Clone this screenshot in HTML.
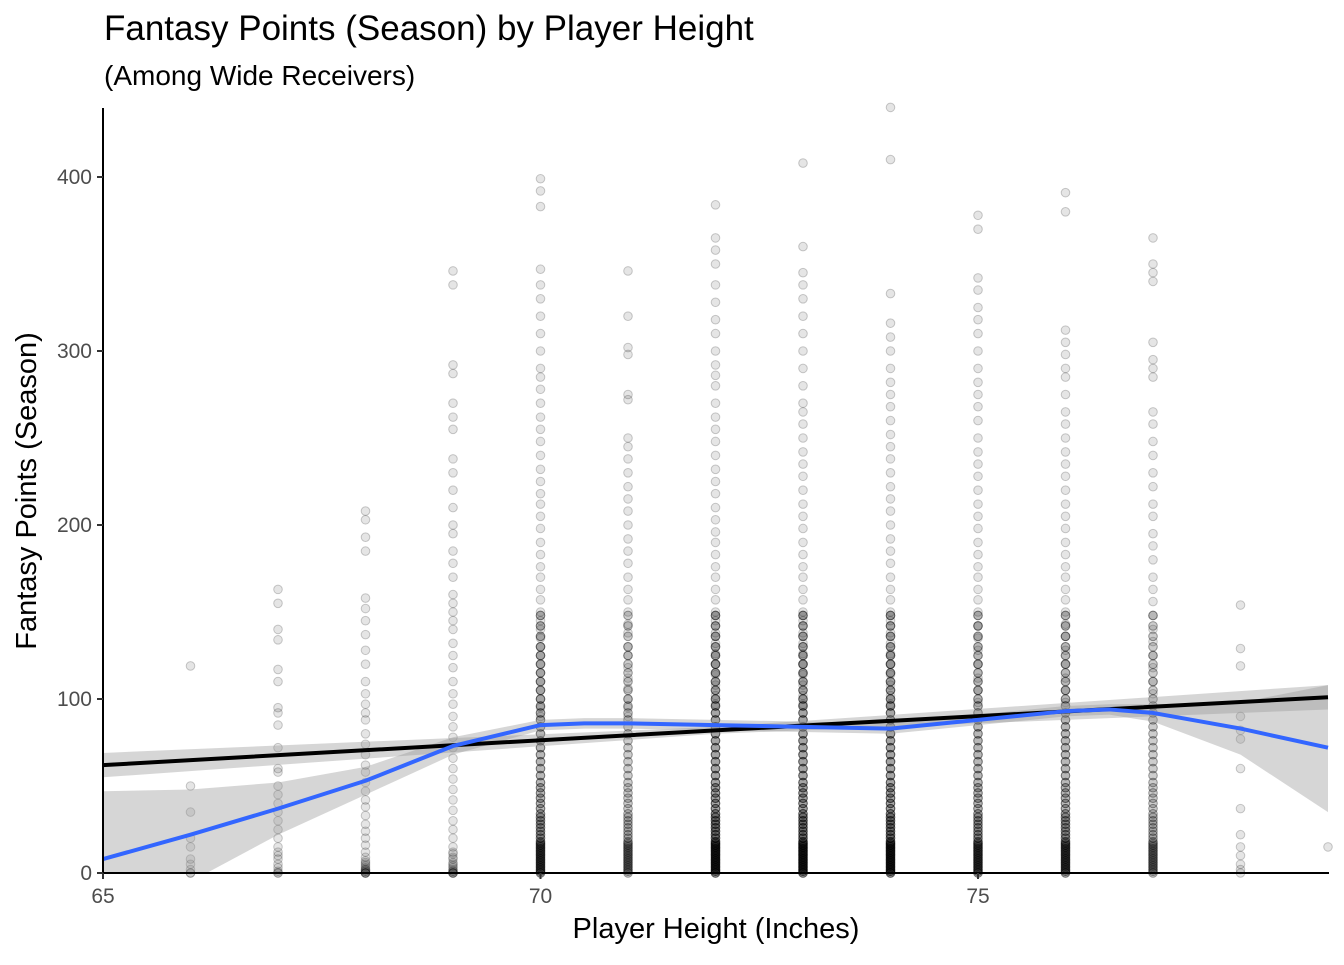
<!DOCTYPE html>
<html><head><meta charset="utf-8"><style>
body{margin:0;background:#fff;font-family:"Liberation Sans",sans-serif}
</style></head><body>
<svg id="c" width="1344" height="960" xmlns="http://www.w3.org/2000/svg">
<text x="104" y="40" font-size="35" fill="#000">Fantasy Points (Season) by Player Height</text>
<text x="104" y="85" font-size="28" fill="#000">(Among Wide Receivers)</text>
<text x="716" y="938" font-size="29" text-anchor="middle">Player Height (Inches)</text>
<text transform="translate(36,491) rotate(-90)" font-size="29" text-anchor="middle">Fantasy Points (Season)</text>
<g id="pts"></g>
<g id="fits"></g>
<g id="axes"></g>
</svg>
<script>
const heights=[66,67,68,69,70,71,72,73,74,75,76,77,78,79];
const low=[0,1,2,3,4,5,6,7,8,9,10,11,12,13,14,15,16,17,18,20,22,24,26,28,30,32,34,37,40,43,46,49,52,56,60,64,68,72,76,80,84,88,92,96,100,105,110,115,120,125,130,136,142,148];
const v66=[119,50,35,20,15,8,5,2,0,0];
const v67=[163,155,140,134,117,110,95,92,85,72,60,58,50,45,40,35,30,25,20,15,12,10,8,5,3,1,0,0];
const v68=[208,203,193,185,158,152,145,137,128,120,110,103,97,92,88,80,74,68,62,58,52,47,42,38,33,28,24,20,16,12,9,6,4,2,1,0,0,0,0,1,2,3,5,7];
const v69=[346,338,292,287,270,262,255,238,230,220,210,200,195,185,178,170,160,155,150,145,140,132,125,118,110,103,97,90,84,78,72,66,60,54,48,42,36,30,25,20,15,11,8,5,3,1,0,0,0,0,1,2,4,6,9,12];
const v70=[399,392,383,347,338,330,320,310,300,290,285,278,270,262,255,248,240,232,225,218,212,205,198,190,183,176,170,163,157,150,145,140,135,130,125,120,115,110,105,100,95,90].concat(low,low,low);
const v71=[346,320,302,298,275,272,250,245,238,230,222,215,208,200,192,185,178,170,163,157,150,143,138,130,125,118,112,106,100,95,90].concat(low,low);
const v72=[384,365,358,350,338,328,318,310,300,292,286,280,270,262,255,248,240,232,225,218,210,203,196,190,183,176,170,163,157,150,145,138,132,126,120,114,108,102,97].concat(low,low,low,low);
const v73=[408,360,345,338,330,320,310,300,290,280,270,265,258,250,242,235,228,220,212,205,198,190,183,176,170,163,157,150,145,138,132,126,120,114,108,102,97].concat(low,low,low,low);
const v74=[440,410,333,316,308,300,290,282,275,268,260,252,245,238,230,222,215,208,200,192,185,178,170,163,157,150,145,138,132,126,120,114,108,102,97].concat(low,low,low,low);
const v75=[378,370,342,335,325,318,310,300,290,282,275,268,260,250,242,235,228,220,212,205,198,190,183,176,170,163,157,150,142,135,128,120,112,105,98].concat(low,low,low);
const v76=[391,380,312,305,298,290,285,275,265,258,250,242,235,228,220,212,205,198,190,183,176,170,163,157,150,143,136,128,120,112,105,98].concat(low,low,low);
const v77=[365,350,345,340,305,295,290,285,265,258,248,240,230,222,212,205,195,188,180,170,163,156,148,140,133,125,118,110,103].concat(low,low);
const v78=[154,129,119,90,82,77,60,37,22,15,10,5,2,0];
const v79=[15];
const series=[v66,v67,v68,v69,v70,v71,v72,v73,v74,v75,v76,v77,v78,v79];
const yTicks=[0,100,200,300,400];
const xTicks=[65,70,75];
const lmX=[65,72,79]; const lmY=[62,82,101]; const lmLo=[55,80,94]; const lmHi=[69,84,108];
const loX=[65,66,67,68,69,70,70.5,71,72,73,74,75,76,76.5,77,78,79];
const loY=[8,22,37,53,73,85,86,86,85,84,83,88,93,94,92,83,72];
const loLo=[-30,-5,22,45,68,82,83,83,82,81,80,85,90,91,87,68,35];
const loHi=[47,48,52,61,78,88,89,89,88,87,86,91,96,97,97,98,108];
const X=v=>103+(v-65)*87.5, Y=v=>873-v*1.74;
const NS="http://www.w3.org/2000/svg";
function mk(t,a,p){const e=document.createElementNS(NS,t);for(const k in a)e.setAttribute(k,a[k]);p.appendChild(e);return e;}
const pts=document.getElementById('pts');
series.forEach((arr,i)=>arr.forEach(v=>{
 const c=mk('circle',{cx:X(heights[i]),cy:Y(v),r:4.3,fill:'rgba(0,0,0,0.1)',stroke:'rgba(0,0,0,0.2)','stroke-width':1},pts);
 
 
}));
const fits=document.getElementById('fits');
const clip=mk('clipPath',{id:'pc'},fits);mk('rect',{x:103,y:100,width:1226,height:773},clip);
const g=mk('g',{'clip-path':'url(#pc)'},fits);
function band(xs,lo,hi,name){let d='M'+xs.map((x,i)=>X(x)+','+Y(hi[i])).join('L')+'L'+xs.map((x,i)=>X(x)+','+Y(lo[i])).reverse().join('L')+'Z';
 const p=mk('path',{d:d,fill:'rgba(153,153,153,0.4)'},g);}
band(lmX,lmLo,lmHi,'linear-fit-ribbon');band(loX,loLo,loHi,'loess-ribbon');
const l1=mk('path',{d:'M'+lmX.map((x,i)=>X(x)+','+Y(lmY[i])).join('L'),stroke:'#000',fill:'none','stroke-width':4},g);

const l2=mk('path',{d:'M'+loX.map((x,i)=>X(x)+','+Y(loY[i])).join('L'),stroke:'#3366ff',fill:'none','stroke-width':4,'stroke-linejoin':'round'},g);

const ax=document.getElementById('axes');
mk('line',{x1:103,y1:108,x2:103,y2:874,stroke:'#000','stroke-width':2},ax);
mk('line',{x1:102,y1:873,x2:1329,y2:873,stroke:'#000','stroke-width':2},ax);
yTicks.forEach(t=>{mk('line',{x1:97,x2:103,y1:Y(t),y2:Y(t),stroke:'#333','stroke-width':2},ax);
 const e=mk('text',{x:92,y:Y(t)+7,'font-size':21,fill:'#4d4d4d','text-anchor':'end'},ax);e.textContent=t;
 });
xTicks.forEach(t=>{mk('line',{x1:X(t),x2:X(t),y1:873,y2:879,stroke:'#333','stroke-width':2},ax);
 const e=mk('text',{x:X(t),y:903,'font-size':21,fill:'#4d4d4d','text-anchor':'middle'},ax);e.textContent=t;
 });
</script>
</body></html>
